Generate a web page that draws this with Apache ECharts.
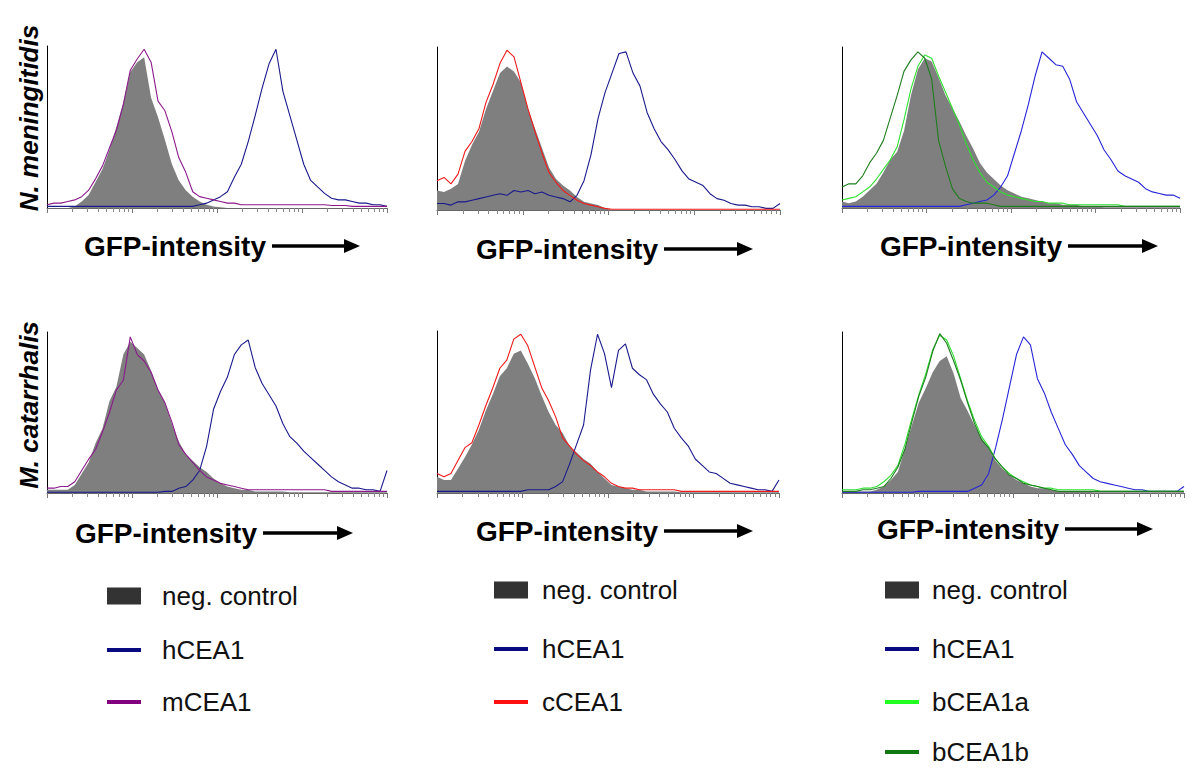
<!DOCTYPE html>
<html>
<head>
<meta charset="utf-8">
<script src="https://cdn.jsdelivr.net/npm/echarts@6/dist/echarts.min.js"></script>
<style>
html,body{margin:0;padding:0;background:#fff;}
#chart{width:1200px;height:781px;}
</style>
</head>
<body>
<div id="chart"></div>
<script>
// channel index (histogram bins, left to right along the log GFP axis)
const channels = Array.from({length: 50}, (_, i) => i);

// Panel 1: N. meningitidis, hCEA1 / mCEA1
const p1Neg = [0,0,0,0,1,4,8,16,24,36,50,65,84,90,93,68,56,42,27,17,11,7,4,2,1,0.5,0,0,0,0,0,0,0,0,0,0,0,0,0,0,0,0,0,0,0,0,0,0,0,0];
const p1H   = [1,1,1,1,1,1,1,1,1,1,1,1,1,1,1,1,1,1,1,1,1,1,2,3,5,7,10,19,27,41,57,74,89,98,72,57,42,27,17,13,9,6,5,5,4,3,3,2,2,1];
const p1M   = [2,3,3,4,5,7,11,18,26,37,48,64,85,92,98,90,66,60,47,31,22,10,7,6,5,4,3,3,2,2,2,2,2,2,2,2,2,2,2,2,2,1.5,1.5,1.5,1,1,1,1,1,1];

// Panel 2: N. meningitidis, hCEA1 / cCEA1
const p2Neg = [12,11,13,16,30,40,48,62,73,84,88,85,78,62,50,38,26,19,15,12,8,5,4,3,1,0,0,0,0,0,0,0,0,0,0,0,0,0,0,0,0,0,0,0,0,0,0,0,0,0];
const p2H   = [4,4,3,5,5,6,7,8,9,10,9,12,11,12,10,11,9,8,7,5,9,18,34,56,72,84,96,97,84,76,60,50,42,37,31,24,19,17,15,10,7,6,4,3,3,2,2,1,1,4];
const p2C   = [18,20,16,22,36,42,50,66,77,90,98,94,78,62,48,35,23,17,12,9,6,4,3,2,1,0.5,0.5,0.5,0.5,0.5,0.5,0.5,0.5,0.5,0.5,0.5,0.5,0.5,0.5,0.5,0.5,0.5,0.5,0.5,0.5,0.5,0.5,0.5,0.5,0.5];

// Panel 3: N. meningitidis, hCEA1 / bCEA1a / bCEA1b
const p3Neg = [4,3,4,7,11,15,22,30,35,48,70,86,93,91,81,70,62,54,45,37,28,22,18,14,11,9,7,6,5,4,3,3,2,2,2,1,1,1,0.5,0.5,0.5,0.5,0.5,0.5,0.5,0.5,0.5,0.5,0.5,0.5];
const p3H   = [1,1,1,1,1,1,1,1,1,1,1,1,1,1,1,1,1,1,2,3,4,5,8,13,20,34,48,64,82,97,93,89,88,80,66,59,52,45,36,30,23,20,18,16,12,10,9,8,8,6];
const p3A   = [5,6,7,10,13,18,24,30,38,55,74,88,95,93,82,72,62,52,40,30,22,16,13,10,8,7,6,5,4,4,3,3,3,2,2,2,2,2,2,2,2,1,1,1,1,1,1,1,1,1];
const p3B   = [13,15,15,20,28,34,42,56,70,85,92,97,93,80,42,26,12,6,4,3,3,3,2,1,1,1,1,1,1,1,1,1,1,1,1,1,1,1,1,1,1,1,1,1,1,1,1,1,1,1];

// Panel 4: M. catarrhalis, hCEA1 / mCEA1
const p4Neg = [2,2,2,2,5,12,19,31,40,57,66,86,94,90,86,76,64,56,43,32,24,20,16,13,9,6,4,3,2,2,1,1,1,1,1,0.5,0.5,0.5,0.5,0.5,0.5,0.5,0.5,0.5,0.5,0.5,0.5,0.5,0.5,0.5];
const p4H   = [0.5,0.5,0.5,0.5,0.5,0.5,0.5,0.5,0.5,0.5,0.5,0.5,0.5,0.5,0.5,0.5,0.5,1,1,3,4,8,14,29,52,63,72,86,92,95,78,68,61,54,43,35,31,26,22,18,14,10,7,5,3,3,2,2,1,14];
const p4M   = [3,3,4,4,7,14,21,27,38,50,64,70,97,86,82,75,64,56,44,30,24,19,14,10,8,6,5,4,3,2,2,2,2,2,2,2,2,2,2,2,2,1,1,1,1,1,1,1,1,1];

// Panel 5: M. catarrhalis, hCEA1 / cCEA1
const p5Neg = [10,8,8,15,22,30,39,51,61,72,77,86,88,80,71,60,50,42,37,29,25,21,18,13,9,5,4,3,2,2,1,1,1,1,1,0.5,0.5,0.5,0.5,0.5,0.5,0.5,0.5,0.5,0.5,0.5,0.5,0.5,0.5,0.5];
const p5H   = [1,1,1,1,1,1,1,1,1,1,1,1,1,2,2,2,2,4,7,18,30,42,76,98,86,65,88,92,77,73,70,61,55,50,40,34,29,21,17,13,12,9,6,5,4,3,2,2,1,8];
const p5C   = [12,10,12,20,28,31,42,54,65,77,82,95,98,91,78,65,57,47,34,29,24,20,17,13,10,6,4,3,3,2,2,2,2,2,2,1,1,1,1,1,1,1,1,1,1,1,1,1,1,1];

// Panel 6: M. catarrhalis, hCEA1 / bCEA1a / bCEA1b
const p6Neg = [1,1,1,1,1,2,4,8,13,27,42,56,65,75,82,85,74,59,51,42,34,28,20,15,11,8,6,4,3,3,2,1,1,1,1,1,0.5,0.5,0.5,0.5,0.5,0.5,0.5,0.5,0.5,0.5,0.5,0.5,0.5,0.5];
const p6H   = [0.5,0.5,0.5,0.5,0.5,0.5,0.5,0.5,0.5,0.5,0.5,1,1,1,1,1,1,1,1,3,5,12,28,46,66,86,97,92,71,62,50,40,30,24,17,13,9,7,6,5,4,3,2,2,1,1,1,1,1,4];
const p6A   = [2,2,2,3,3,4,7,11,17,30,46,61,74,89,98,95,85,71,57,45,35,29,21,16,12,9,7,5,4,3,3,2,2,2,2,2,2,1,1,1,1,1,1,1,1,1,1,1,1,1];
const p6B   = [1,1,1,2,2,3,4,9,16,27,44,60,72,88,99,93,82,70,56,43,33,28,21,16,11,9,6,5,4,3,2,1,1,1,1,1,1,1,1,1,1,1,1,1,1,1,1,1,1,1];

const rowLabels = ['N. meningitidis', 'M. catarrhalis'];
const axisTitle = 'GFP-intensity';

// ---------- layout / styles ----------
const FONT = '"Liberation Sans", Arial, Helvetica, sans-serif';
const C = {
  neg: '#7f7f7f', navy: '#1a1a8c', blue: '#2626d6', purple: '#8b1a8b',
  red: '#f01a1a', lgreen: '#2ee02e', dgreen: '#1e7d1e'
};

const panels = [
  {grid: {left: 47,  top: 46,  width: 340, height: 162}, neg: p1Neg, lines: [['hCEA1', p1H, C.navy], ['mCEA1', p1M, C.purple]]},
  {grid: {left: 437, top: 47,  width: 343, height: 163}, neg: p2Neg, lines: [['hCEA1', p2H, C.navy], ['cCEA1', p2C, C.red]]},
  {grid: {left: 842, top: 47,  width: 338, height: 161}, neg: p3Neg, lines: [['hCEA1', p3H, C.blue], ['bCEA1a', p3A, C.lgreen], ['bCEA1b', p3B, C.dgreen]]},
  {grid: {left: 47,  top: 332, width: 340, height: 161}, neg: p4Neg, lines: [['hCEA1', p4H, C.navy], ['mCEA1', p4M, C.purple]]},
  {grid: {left: 437, top: 331, width: 342, height: 162}, neg: p5Neg, lines: [['hCEA1', p5H, C.navy], ['cCEA1', p5C, C.red]]},
  {grid: {left: 842, top: 332, width: 342, height: 161}, neg: p6Neg, lines: [['hCEA1', p6H, C.blue], ['bCEA1a', p6A, C.lgreen], ['bCEA1b', p6B, C.dgreen]]}
];

const grid = [], xAxis = [], yAxis = [], series = [];
panels.forEach((p, i) => {
  grid.push(Object.assign({containLabel: false}, p.grid));
  xAxis.push({type: 'category', gridIndex: i, data: channels, boundaryGap: false, show: false});
  xAxis.push({
    type: 'log', logBase: 10, gridIndex: i, min: 1, max: 10000, position: 'bottom',
    axisLine: {show: true, lineStyle: {color: '#666', width: 1}},
    axisTick: {show: true, length: 5, lineStyle: {color: '#777', width: 1}},
    minorTick: {show: true, splitNumber: 9, length: 4, lineStyle: {color: '#888', width: 1}},
    axisLabel: {show: false}, splitLine: {show: false}, minorSplitLine: {show: false}
  });
  yAxis.push({
    type: 'value', gridIndex: i, min: 0, max: 100,
    axisLine: {show: true, lineStyle: {color: '#000', width: 1}},
    axisTick: {show: false}, axisLabel: {show: false}, splitLine: {show: false}
  });
  series.push({
    name: 'neg. control', type: 'line', xAxisIndex: 2 * i, yAxisIndex: i, data: p.neg,
    symbol: 'none', lineStyle: {width: 0}, areaStyle: {color: C.neg, opacity: 1}, z: 1, silent: true
  });
  p.lines.forEach(([name, data, color]) => {
    series.push({
      name, type: 'line', xAxisIndex: 2 * i, yAxisIndex: i, data,
      symbol: 'none', lineStyle: {width: 1.1, color}, itemStyle: {color}, z: 2, silent: true
    });
  });
});

// ---------- graphic: row labels, axis titles with arrows, legends ----------
const graphic = [];
graphic.push({type: 'text', x: 29, y: 118, rotation: Math.PI / 2,
  style: {text: rowLabels[0], x: 0, y: 0, align: 'center', verticalAlign: 'middle',
          font: 'italic bold 26px ' + FONT, fill: '#000'}});
graphic.push({type: 'text', x: 29, y: 405, rotation: Math.PI / 2,
  style: {text: rowLabels[1], x: 0, y: 0, align: 'center', verticalAlign: 'middle',
          font: 'italic bold 26px ' + FONT, fill: '#000'}});

const titles = [
  {ty: 246, a0: 272,  a1: 360},
  {ty: 249, a0: 664,  a1: 753},
  {ty: 246, a0: 1068, a1: 1158},
  {ty: 533, a0: 263,  a1: 353},
  {ty: 531, a0: 664,  a1: 753},
  {ty: 529, a0: 1065, a1: 1153}
];
titles.forEach(t => {
  graphic.push({type: 'text', style: {text: axisTitle, x: t.a0 - 6, y: t.ty, align: 'right', verticalAlign: 'middle',
    font: 'bold 28px ' + FONT, fill: '#000'}});
  graphic.push({type: 'line', shape: {x1: t.a0, y1: t.ty, x2: t.a1 - 14, y2: t.ty},
    style: {stroke: '#000', lineWidth: 3.5}});
  graphic.push({type: 'polygon', shape: {points: [[t.a1 - 16, t.ty - 7], [t.a1, t.ty], [t.a1 - 16, t.ty + 7]]},
    style: {fill: '#000'}});
});

const legendCols = [
  {x: 107, tx: 162, items: [['neg. control', '#333333', 'rect', 596], ['hCEA1', '#0a0a80', 'line', 650], ['mCEA1', '#800080', 'line', 702]]},
  {x: 494, tx: 542, items: [['neg. control', '#333333', 'rect', 590], ['hCEA1', '#0a0a80', 'line', 649], ['cCEA1', '#ff1010', 'line', 702]]},
  {x: 885, tx: 932, items: [['neg. control', '#333333', 'rect', 590], ['hCEA1', '#0a0a80', 'line', 649], ['bCEA1a', '#22ff22', 'line', 702], ['bCEA1b', '#107810', 'line', 752]]}
];
legendCols.forEach(col => {
  col.items.forEach(([name, color, kind, y]) => {
    if (kind === 'rect') {
      graphic.push({type: 'rect', shape: {x: col.x, y: y - 8.5, width: 34, height: 17}, style: {fill: color}});
    } else {
      graphic.push({type: 'rect', shape: {x: col.x, y: y - 2, width: 34, height: 4}, style: {fill: color}});
    }
    graphic.push({type: 'text', style: {text: name, x: col.tx, y: y, align: 'left', verticalAlign: 'middle',
      font: '26px ' + FONT, fill: '#111'}});
  });
});

const chart = echarts.init(document.getElementById('chart'), null, {renderer: 'svg', width: 1200, height: 781});
chart.setOption({
  backgroundColor: '#fff',
  animation: false,
  grid, xAxis, yAxis, series, graphic
});
</script>
</body>
</html>
